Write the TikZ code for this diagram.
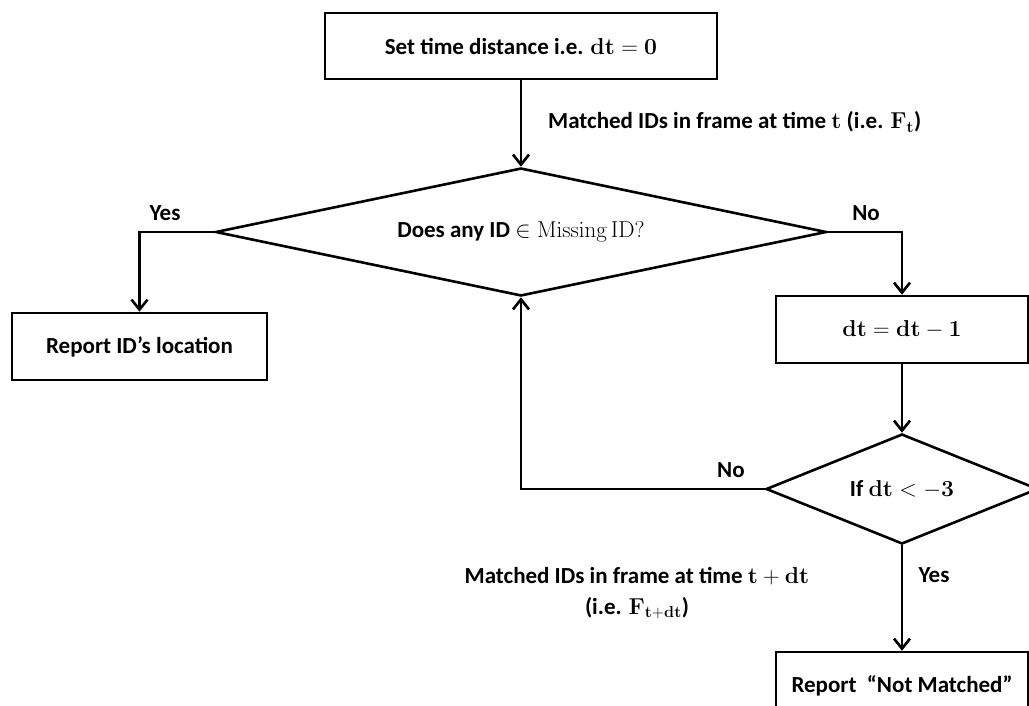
\documentclass[tikz,border=0pt]{standalone}
\usepackage{fix-cm}
\usepackage[no-math]{fontspec}
\setmainfont{Carlito}
\usetikzlibrary{shapes.geometric,arrows.meta}
\begin{document}
\begin{tikzpicture}[x=1pt,y=-1pt,
  txt/.style={font=\fontsize{23}{31}\selectfont\bfseries},
  box/.style={draw, rectangle, line width=2.6pt, inner sep=0pt, txt},
  dec/.style={draw, diamond, line width=2.6pt, inner sep=0pt, txt},
  lbl/.style={txt, inner sep=0pt},
  arr/.style={line width=2.6pt, -{Straight Barb[length=10pt,width=16pt,line width=2.6pt]}}]
\useasboundingbox (0,0) rectangle (1029,705);
\clip (0,0) rectangle (1029,705);

\node[box, minimum width=392pt, minimum height=66pt] (start) at (521,46) {Set time distance i.e. $\mathbf{dt}=\mathbf{0}$};
\node[dec, aspect=4.77, minimum width=611pt, minimum height=128pt] (d1) at (521,232) {Does any ID $\in\mathrm{Missing\,ID?}$};
\node[box, minimum width=255pt, minimum height=67pt] (rep) at (139.5,346.5) {Report ID’s location};
\node[box, minimum width=252pt, minimum height=67pt] (upd) at (902,329.5) {$\mathbf{dt}=\mathbf{dt}-\mathbf{1}$};
\node[dec, aspect=2.47, minimum width=272pt, minimum height=110pt] (d2) at (902,489) {If $\mathbf{dt}<-\mathbf{3}$};
\node[box, minimum width=252pt, minimum height=67pt] (nm) at (902,685.5) {Report~~“Not Matched”};

\draw[arr] (start) -- (d1);
\draw[arr] (d1.west) -| (rep.north);
\draw[arr] (d1.east) -| (upd.north);
\draw[arr] (upd) -- (d2);
\draw[arr] (d2.south) -- (nm.north);
\draw[arr] (d2.west) -| (d1.south);

\node[lbl, anchor=west] (l1) at (548,122) {Matched IDs in frame at time $\mathbf{t}$ (i.e. $\mathbf{F_t}$)};
\node[lbl] (yes1) at (165,213) {Yes};
\node[lbl] (no1) at (866,213) {No};
\node[lbl] (no2) at (731,470) {No};
\node[lbl] (yes2) at (934,575) {Yes};
\node[lbl, align=center] (l2) at (637,593) {Matched IDs in frame at time $\mathbf{t}+\mathbf{dt}$\\(i.e. $\mathbf{F}_{\mathbf{t+dt}}$)};
\end{tikzpicture}
\end{document}
